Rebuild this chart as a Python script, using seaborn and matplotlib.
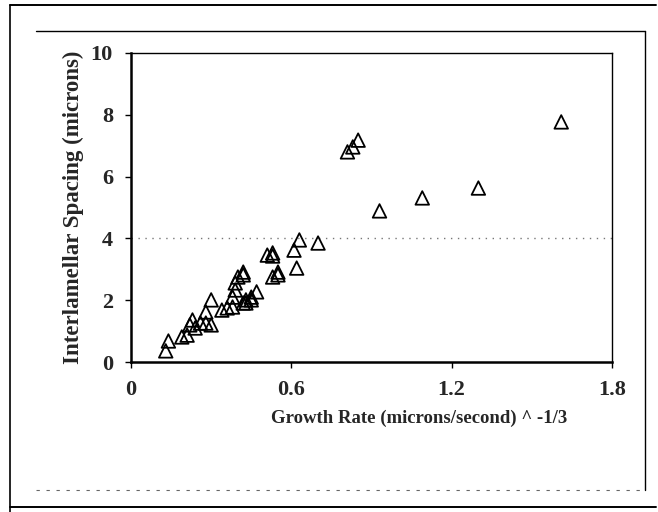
import matplotlib
matplotlib.use('Agg')
import matplotlib.pyplot as plt
import pandas as pd
import seaborn as sns
from matplotlib.lines import Line2D


growth_rate = [
  0.13, 0.14, 0.19, 0.21, 0.22, 0.23, 0.24, 0.26, 0.28, 0.28,
  0.30, 0.30, 0.34, 0.36, 0.38, 0.38, 0.39, 0.39, 0.40, 0.42,
  0.42, 0.42, 0.43, 0.43, 0.45, 0.45, 0.47, 0.51, 0.53, 0.53,
  0.53, 0.55, 0.55, 0.61, 0.62, 0.63, 0.70, 0.81, 0.83, 0.85,
  0.93, 1.09, 1.30, 1.61,
]
spacing = [
  0.36, 0.68, 0.81, 0.87, 1.20, 1.36, 1.10, 1.26, 1.62, 1.26,
  2.01, 1.20, 1.68, 1.75, 2.10, 1.78, 2.33, 2.56, 2.75, 2.82,
  2.91, 1.91, 1.91, 2.01, 2.10, 2.01, 2.27, 3.46, 3.53, 3.43,
  2.75, 2.91, 2.82, 3.62, 3.04, 3.95, 3.85, 6.80, 6.96, 7.18,
  4.89, 5.31, 5.63, 7.77,
]
x_ticks = [0, 0.6, 1.2, 1.8]
x_tick_labels = ['0', '0.6', '1.2', '1.8']
y_ticks = [0, 2, 4, 6, 8, 10]

W, H = 658, 512


def frame_line(fig, x0, y0, x1, y1, **kw):
  # pixel coords (top-left origin) -> figure fraction
  fig.lines.append(Line2D([x0 / W, x1 / W], [1 - y0 / H, 1 - y1 / H],
                          transform=fig.transFigure, color='black', **kw))


def main() -> None:
  df = pd.DataFrame({'x': growth_rate, 'y': spacing})

  sns.set_theme(style='white')
  plt.rcParams['font.family'] = ['Liberation Serif', 'DejaVu Serif']
  plt.rcParams['font.weight'] = 'bold'

  fig = plt.figure(figsize=(6.58, 5.12), dpi=100)
  ax = fig.add_axes([131 / W, 1 - 362 / H, 481 / W, 309 / H])

  # scanned page frame around the chart
  frame_line(fig, 10, 5, 656, 5, linewidth=1.4)
  frame_line(fig, 10, 5, 10, 512, linewidth=1.2)
  frame_line(fig, 36, 31, 645, 31, linewidth=1.0)
  frame_line(fig, 645, 31, 645, 490, linewidth=1.0)
  frame_line(fig, 36, 490, 645, 490, linewidth=0.8, linestyle=(0, (3, 6)), alpha=0.6)
  frame_line(fig, 10, 507, 656, 507, linewidth=1.4)

  ax.axhline(4, color='#777777', linestyle=(0, (1, 4)), linewidth=1.0, zorder=1)

  sns.scatterplot(data=df, x='x', y='y', marker='^', s=95,
                  facecolor='none', edgecolor='black', linewidth=1.3,
                  ax=ax, zorder=3)

  ax.set_xlim(0, 1.8)
  ax.set_ylim(0, 10)
  ax.set_xticks(x_ticks)
  ax.set_xticklabels(x_tick_labels)
  ax.set_yticks(y_ticks)
  ax.tick_params(axis='both', labelsize=16, length=4, width=1, color='black',
                 direction='out', left=True, bottom=True, pad=9)
  for lbl in ax.get_xticklabels() + ax.get_yticklabels():
    lbl.set_fontweight('bold')

  for sp in ax.spines.values():
    sp.set_visible(True)
    sp.set_color('black')
    sp.set_linewidth(1.0)
  ax.spines['left'].set_linewidth(1.8)
  ax.spines['bottom'].set_linewidth(1.8)

  ax.set_xlabel('Growth Rate (microns/second) ^ -1/3', fontsize=13.5,
                fontweight='bold', labelpad=5)
  ax.xaxis.set_label_coords(0.6, -0.155)
  ax.set_ylabel('Interlamellar Spacing (microns)', fontsize=16.5,
                fontweight='bold', labelpad=5)

  fig.savefig('out.png', dpi=100)


if __name__ == '__main__':
  main()
